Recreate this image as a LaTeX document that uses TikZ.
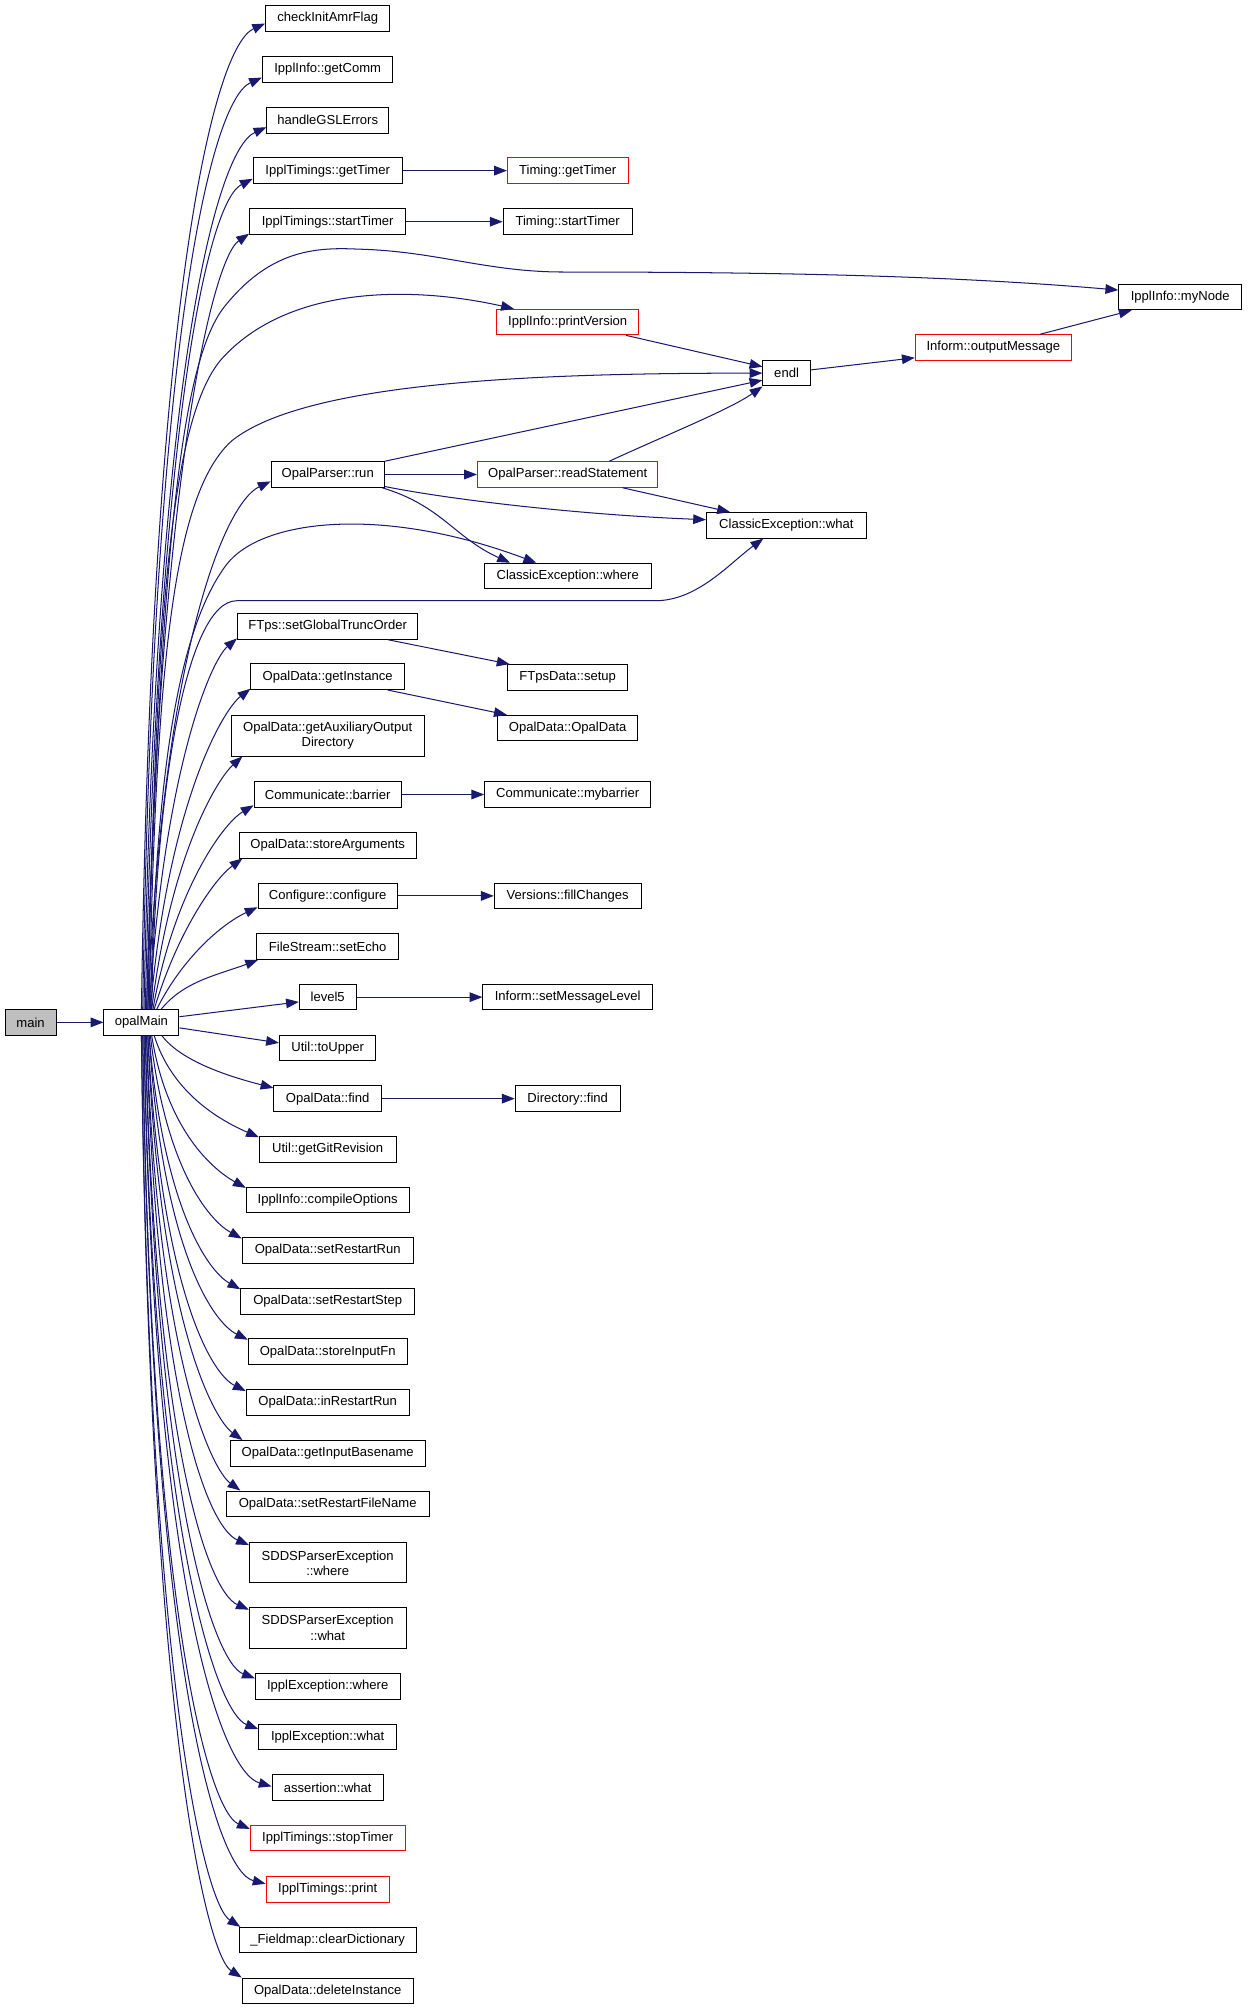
\documentclass[tikz,border=0pt]{standalone}
\usepackage{fontspec}
\setmainfont{Liberation Sans}
\usepackage{tikz}
\usetikzlibrary{positioning, arrows.meta}
\definecolor{edgeblue}{HTML}{191970}
\definecolor{maingray}{HTML}{BFBFBF}

\begin{document}
\begin{tikzpicture}[
            x=1pt, y=-1pt,
            fn/.style={draw=black, line width=0.75pt, fill=white, inner sep=1pt,
                minimum height=20pt, align=center,
                font=\fontsize{10.2}{11.8}\selectfont},
            fnred/.style={fn, draw=red},
            call/.style={draw=edgeblue, line width=0.8pt,
                -{Triangle[length=10pt, width=7.5pt]}}
        ]
        \useasboundingbox (0,0) rectangle (975,1569.5);
        % Caller and entry point
        \node[fn, fill=maingray, minimum width=40pt] (main) at (23.9,798.7) {main};
        \node[fn, minimum width=58.6pt] (opalMain) at (110.5,798.7) {opalMain};

        % Functions called by opalMain
        \node[fn, minimum width=97pt] (checkInit) at (256,14.5) {checkInitAmrFlag};
        \node[fn, minimum width=102pt] (getComm) at (256,54.2) {IpplInfo::getComm};
        \node[fn, minimum width=95pt] (handleGSL) at (256,94) {handleGSLErrors};
        \node[fn, minimum width=116.5pt] (getTimer) at (256,133.3) {IpplTimings::getTimer};
        \node[fn, minimum width=122pt] (startTimer) at (256,173.2) {IpplTimings::startTimer};
        \node[fn, minimum width=88.5pt] (run) at (256,370.7) {OpalParser::run};
        \node[fn, minimum width=141pt] (ftps) at (256,489.4) {FTps::setGlobalTruncOrder};
        \node[fn, minimum width=120pt] (getInstance) at (256,528.7) {OpalData::getInstance};
        \node[fn, minimum width=150.6pt, minimum height=31.6pt] (getAux) at (256,574.8)
            {OpalData::getAuxiliaryOutput\\Directory};
        \node[fn, minimum width=115pt] (barrier) at (256,620.7) {Communicate::barrier};
        \node[fn, minimum width=138.4pt] (storeArgs) at (256,660.3) {OpalData::storeArguments};
        \node[fn, minimum width=108.8pt] (configure) at (256,699.9) {Configure::configure};
        \node[fn, minimum width=111pt] (setEcho) at (256,739.5) {FileStream::setEcho};
        \node[fn, minimum width=44.3pt] (level5) at (256,779) {level5};
        \node[fn, minimum width=75.4pt] (toUpper) at (256,818.7) {Util::toUpper};
        \node[fn, minimum width=84pt] (find) at (256,858.3) {OpalData::find};
        \node[fn, minimum width=106.8pt] (getGit) at (256,897.8) {Util::getGitRevision};
        \node[fn, minimum width=127.3pt] (compileOpts) at (256,937.4) {IpplInfo::compileOptions};
        \node[fn, minimum width=133.6pt] (setRestartRun) at (256,977) {OpalData::setRestartRun};
        \node[fn, minimum width=135.7pt] (setRestartStep) at (256,1016.6) {OpalData::setRestartStep};
        \node[fn, minimum width=124.1pt] (storeInputFn) at (256,1056) {OpalData::storeInputFn};
        \node[fn, minimum width=127.3pt] (inRestartRun) at (256,1095.6) {OpalData::inRestartRun};
        \node[fn, minimum width=152.4pt] (getInputBasename) at (256,1135.4) {OpalData::getInputBasename};
        \node[fn, minimum width=158.7pt] (setRestartFile) at (256,1174.8) {OpalData::setRestartFileName};
        \node[fn, minimum width=122.4pt, minimum height=31.2pt] (sddsWhere) at (256,1221)
            {SDDSParserException\\::where};
        \node[fn, minimum width=122.4pt, minimum height=31.6pt] (sddsWhat) at (256,1271.7)
            {SDDSParserException\\::what};
        \node[fn, minimum width=113pt] (ipplExcWhere) at (256,1317.5) {IpplException::where};
        \node[fn, minimum width=107.8pt] (ipplExcWhat) at (256,1357.1) {IpplException::what};
        \node[fn, minimum width=86.9pt] (assertWhat) at (256,1396.5) {assertion::what};
        \node[fnred, minimum width=121pt] (stopTimer) at (256,1436) {IpplTimings::stopTimer};
        \node[fnred, minimum width=96.3pt] (printTimings) at (256,1476) {IpplTimings::print};
        \node[fn, minimum width=138.4pt] (clearDict) at (256,1515.7) {\_Fieldmap::clearDictionary};
        \node[fn, minimum width=133.6pt] (deleteInstance) at (256,1555.3) {OpalData::deleteInstance};

        % Second level callees
        \node[fnred, minimum width=94.2pt] (timingGetTimer) at (443.5,133.3) {Timing::getTimer};
        \node[fn, minimum width=100.9pt] (timingStartTimer) at (443.5,173.2) {Timing::startTimer};
        \node[fnred, minimum width=111.3pt] (printVersion) at (443.5,251.6) {IpplInfo::printVersion};
        \node[fnred, minimum width=141pt] (readStatement) at (443.5,370.7) {OpalParser::readStatement};
        \node[fn, minimum width=130.4pt] (ceWhere) at (443.5,450) {ClassicException::where};
        \node[fn, minimum width=94pt] (ftpsSetup) at (443.5,529.2) {FTpsData::setup};
        \node[fn, minimum width=109.4pt] (opalDataCtor) at (443.5,568.8) {OpalData::OpalData};
        \node[fn, minimum width=129.7pt] (mybarrier) at (443.5,620.7) {Communicate::mybarrier};
        \node[fn, minimum width=114.8pt] (fillChanges) at (443.5,699.9) {Versions::fillChanges};
        \node[fn, minimum width=132.5pt] (setMessageLevel) at (443.5,779) {Inform::setMessageLevel};
        \node[fn, minimum width=82pt] (dirFind) at (443.5,858.3) {Directory::find};
        \node[fn, minimum width=37pt] (endl) at (614.5,291.5) {endl};
        \node[fn, minimum width=124.7pt] (ceWhat) at (614.3,410.4) {ClassicException::what};
        \node[fnred, minimum width=122pt] (outputMessage) at (776,271.5) {Inform::outputMessage};
        \node[fn, minimum width=96pt] (myNode) at (922,232) {IpplInfo::myNode};

        % main -> opalMain
        \draw[call] (main.east) -- (opalMain.west);

        % opalMain -> callees above it
        \foreach \callee/\s/\a/\b/\c/\d/\ex/\ey in {
                checkInit/0/8/-560/-40/18/0/6.5,
                getComm/1/8/-525/-40/18/0/4,
                handleGSL/2/9/-490/-40/18/0/5,
                getTimer/3/10/-460/-35/18/0/4,
                startTimer/4/10/-420/-28/19/0/1,
                run/5/12/-280/-36/17/0/5,
                ftps/6/12/-190/-20/17/0/1,
                getInstance/7/14/-160/-22/17/0/1,
                getAux/8/15/-120/-20/18/9/0,
                barrier/9/16/-90/-25/15/0/2,
                storeArgs/10/18/-60/-22/16/3/0,
                configure/12/20/-40/-28/13/0/1.5,
                setEcho/15.5/18/-22/-32/12/1.5/0}
            \draw[call] ([xshift=\s pt]opalMain.north) .. controls +(\a,\b) and +(\c,\d)
                .. ([xshift=\ex pt, yshift=\ey pt]\callee.south west);

        % opalMain -> callees below it
        \foreach \callee/\s/\a/\b/\c/\d/\ex/\ey in {
                find/16/15/20/-35/-9/0/2,
                getGit/10/14/45/-30/-13/0/1,
                compileOpts/8/12/75/-25/-14/0/1,
                setRestartRun/7/12/105/-25/-14/0/1,
                setRestartStep/6/11/135/-25/-14/0/1,
                storeInputFn/6/10/165/-28/-14/0/1,
                inRestartRun/5/10/195/-28/-14/0/1.5,
                getInputBasename/5/9/225/-22/-16/10/0,
                setRestartFile/4/9/255/-22/-16/11.5/0,
                sddsWhere/4/8/285/-32/-14/0/2,
                sddsWhat/3/8/320/-32/-14/0/2,
                ipplExcWhere/3/8/360/-32/-12/0/4,
                ipplExcWhat/2/7/390/-32/-12/0/4,
                assertWhat/2/7/425/-40/-11.5/0/9.5,
                stopTimer/1/6/450/-32/-14/0/3.2,
                printTimings/1/6/480/-40/-10/0/6,
                clearDict/0/6/505/-28/-18/1.3/0,
                deleteInstance/0/6/530/-28/-18/0/0}
            \draw[call] ([xshift=\s pt]opalMain.south) .. controls +(\a,\b) and +(\c,\d)
                .. ([xshift=\ex pt, yshift=-\ey pt]\callee.north west);

        % straight calls to the right of opalMain
        \draw[call] ([yshift=4.4pt]opalMain.east) -- ([yshift=-3.7pt]level5.west);
        \draw[call] ([yshift=-4.3pt]opalMain.east) -- ([yshift=4pt]toUpper.west);

        % long calls from opalMain
        \draw[call] ([xshift=4pt]opalMain.north) .. controls (126,440) and (140,285) .. (175,240)
            .. controls (210,196) and (245,193) .. (279,194.6)
            .. controls (340,196) and (380,212.5) .. (440,212.5)
            .. controls (620,212.5) and (750,216) .. ([yshift=5.4pt]myNode.west);
        \draw[call] ([xshift=5pt]opalMain.north) .. controls (122,500) and (131,324) .. (175,278.4)
            .. controls (230,220) and (330,225) .. ([xshift=14pt]printVersion.north west);
        \draw[call] ([xshift=6pt]opalMain.north) .. controls (122,520) and (135,385) .. (181.5,344)
            .. controls (240,298) and (420,291.5) .. (endl.west);
        \draw[call] ([xshift=7pt]opalMain.north) .. controls (122,600) and (140,490) .. (177,441)
            .. controls (205,405) and (300,395) .. ([xshift=41pt]ceWhere.north west);
        \draw[call] ([xshift=8pt]opalMain.north) .. controls (121,620) and (145,469.3) .. (185,469.3)
            -- (512,469.3) .. controls (545,469.3) and (570,440) .. ([xshift=-18pt]ceWhat.south);

        % OpalParser::run
        \draw[call] (run.east) -- (readStatement.west);
        \draw[call] (run.north east) -- ([yshift=-5.5pt]endl.west);
        \draw[call] ([yshift=1pt]run.south east) .. controls (350,390) and (450,402)
            .. ([yshift=4.4pt]ceWhat.west);
        \draw[call] ([xshift=-2pt]run.south east) .. controls (345,395) and (355,420)
            .. ([xshift=20.5pt]ceWhere.north west);

        % remaining calls
        \draw[call] ([xshift=45.5pt]printVersion.south) -- ([yshift=5pt]endl.west);
        \draw[call] ([xshift=32.5pt]readStatement.north) .. controls (520,340) and (570,320)
            .. (endl.south west);
        \draw[call] ([xshift=43pt]readStatement.south) -- ([xshift=-44pt]ceWhat.north);
        \draw[call] ([yshift=2.5pt]endl.east) -- ([yshift=-8pt]outputMessage.west);
        \draw[call] ([xshift=36.6pt]outputMessage.north) -- ([xshift=10.5pt]myNode.south west);
        \draw[call] (getTimer.east) -- (timingGetTimer.west);
        \draw[call] (startTimer.east) -- (timingStartTimer.west);
        \draw[call] ([xshift=47pt]ftps.south) -- ([xshift=2pt]ftpsSetup.north west);
        \draw[call] ([xshift=47pt]getInstance.south) -- ([xshift=7.5pt]opalDataCtor.north west);
        \draw[call] (barrier.east) -- (mybarrier.west);
        \draw[call] (configure.east) -- (fillChanges.west);
        \draw[call] (level5.east) -- (setMessageLevel.west);
        \draw[call] (find.east) -- (dirFind.west);
    \end{tikzpicture}
\end{document}
